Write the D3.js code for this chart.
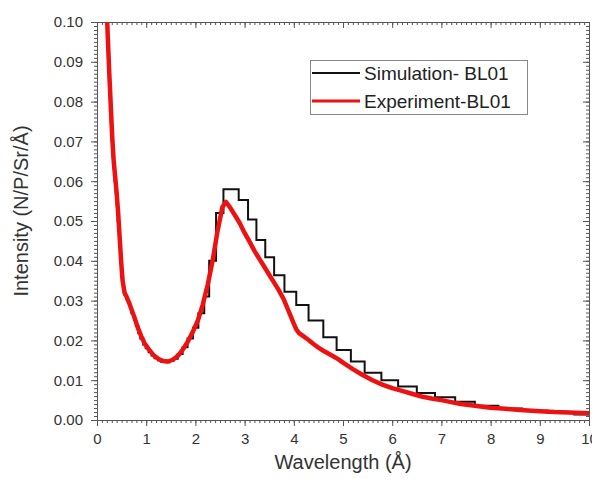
<!DOCTYPE html>
<html>
<head>
<meta charset="utf-8">
<script src="https://cdn.jsdelivr.net/npm/d3@7"></script>
<style>
  body { margin: 0; background: #fff; }
  svg { font-family: "Liberation Sans", Arial, sans-serif; }
</style>
</head>
<body>
<script>
// tick labels
var xTicks = [0, 1, 2, 3, 4, 5, 6, 7, 8, 9, 10];
var yTicks = [0.00, 0.01, 0.02, 0.03, 0.04, 0.05, 0.06, 0.07, 0.08, 0.09, 0.10];

// Simulation - BL01 : histogram bin edges and bin values
var simEdges = [0.20,0.21,0.22,0.24,0.25,0.27,0.28,0.30,0.32,0.34,
                0.36,0.38,0.40,0.42,0.45,0.47,0.50,0.53,0.56,0.59,
                0.63,0.67,0.70,0.75,0.79,0.84,0.88,0.94,0.99,1.05,
                1.11,1.17,1.24,1.31,1.39,1.47,1.55,1.64,1.74,1.84,
                1.95,2.06,2.18,2.28,2.42,2.57,2.72,2.88,3.07,3.24,
                3.42,3.60,3.81,4.05,4.30,4.60,4.87,5.16,5.44,5.78,
                6.12,6.50,6.87,7.28,7.68,8.16,8.64,9.16,9.70,10.30];
var simValues = [0.104,0.099,0.094,0.088,0.084,0.079,0.075,0.070,0.066,0.063,
                 0.060,0.057,0.054,0.050,0.045,0.040,0.036,0.033,0.0315,0.0305,
                 0.0295,0.0282,0.0268,0.0252,0.0236,0.0218,0.0205,0.0190,0.0180,0.0170,
                 0.0162,0.0155,0.0150,0.0146,0.0145,0.0148,0.0154,0.0166,0.0183,0.0205,
                 0.0232,0.0268,0.0310,0.0400,0.0520,0.0580,0.0580,0.0553,0.0504,0.0452,
                 0.0409,0.0364,0.0322,0.0289,0.0250,0.0208,0.0176,0.0147,0.0119,0.0100,
                 0.0084,0.0068,0.0057,0.0046,0.0036,0.0029,0.0023,0.0018,0.0014];

// Experiment - BL01
var expLambda = [0.19,0.22,0.25,0.28,0.31,0.34,0.37,0.40,0.43,0.46,
                 0.49,0.52,0.56,0.60,0.65,0.70,0.76,0.83,0.90,0.97,
                 1.05,1.15,1.25,1.35,1.45,1.55,1.65,1.75,1.85,1.95,
                 2.05,2.15,2.25,2.35,2.45,2.55,2.62,2.70,2.80,2.90,
                 3.00,3.10,3.20,3.30,3.40,3.50,3.60,3.70,3.80,3.90,
                 4.00,4.05,4.10,4.20,4.30,4.40,4.50,4.60,4.70,4.80,
                 4.90,5.00,5.20,5.40,5.60,5.80,6.00,6.20,6.40,6.60,
                 6.80,7.00,7.20,7.40,7.60,7.80,8.00,8.30,8.60,9.00,
                 9.30,9.60,10.00];
var expValues = [0.106,0.096,0.087,0.079,0.071,0.065,0.061,0.057,0.052,0.046,
                 0.040,0.035,0.032,0.031,0.0295,0.0278,0.0258,0.0232,0.0210,0.0192,
                 0.0178,0.0163,0.0153,0.0148,0.0147,0.0152,0.0162,0.0178,0.0198,0.0222,
                 0.0250,0.0290,0.0340,0.0400,0.0475,0.0535,0.0548,0.0535,0.0515,0.0495,
                 0.0470,0.0448,0.0425,0.0405,0.0385,0.0365,0.0345,0.0325,0.0302,0.0272,
                 0.0242,0.0228,0.0219,0.0210,0.0201,0.0191,0.0182,0.0174,0.0167,0.0160,
                 0.0153,0.0144,0.0128,0.0113,0.0100,0.0089,0.0080,0.0073,0.0066,0.0059,
                 0.0054,0.0050,0.0045,0.0040,0.0037,0.0034,0.0031,0.0028,0.0025,0.0022,
                 0.0020,0.0019,0.0017];

var seriesNames = ['Simulation- BL01', 'Experiment-BL01'];
var seriesColors = ['#111111', '#ee1111'];

var width = 592, height = 479;
var margin = { left: 97, right: 3, top: 22, bottom: 59 };

var svg = d3.select('body').append('svg')
    .attr('width', width)
    .attr('height', height);

var x = d3.scaleLinear().domain([0, 10]).range([margin.left, width - margin.right]);
var y = d3.scaleLinear().domain([0, 0.10]).range([height - margin.bottom, margin.top]);

svg.append('clipPath').attr('id', 'plot-clip')
    .append('rect')
    .attr('x', x(0)).attr('y', y(0.10))
    .attr('width', x(10) - x(0)).attr('height', y(0) - y(0.10));

var axisColor = '#555';
var minorX = d3.range(0, 10.001, 0.1);
var minorY = d3.range(0, 0.1001, 0.001);

function styleAxis(g) {
    g.selectAll('path, line').attr('stroke', axisColor);
    g.selectAll('text').attr('fill', '#333').style('font-size', '15px');
}

// minor ticks
svg.append('g').attr('transform', 'translate(0,' + y(0) + ')')
    .call(d3.axisBottom(x).tickValues(minorX).tickSize(3).tickFormat(''))
    .call(styleAxis);
svg.append('g').attr('transform', 'translate(0,' + y(0.10) + ')')
    .call(d3.axisBottom(x).tickValues(minorX).tickSize(3).tickFormat(''))
    .call(styleAxis);
svg.append('g').attr('transform', 'translate(' + x(0) + ',0)')
    .call(d3.axisLeft(y).tickValues(minorY).tickSize(3).tickFormat(''))
    .call(styleAxis);
svg.append('g').attr('transform', 'translate(' + x(10) + ',0)')
    .call(d3.axisLeft(y).tickValues(minorY).tickSize(3).tickFormat(''))
    .call(styleAxis);

// major ticks
svg.append('g').attr('transform', 'translate(0,' + y(0) + ')')
    .call(d3.axisBottom(x).tickValues(xTicks).tickSize(6).tickPadding(7).tickFormat(d3.format('d')))
    .call(styleAxis);
svg.append('g').attr('transform', 'translate(0,' + y(0.10) + ')')
    .call(d3.axisBottom(x).tickValues(xTicks).tickSize(6).tickFormat(''))
    .call(styleAxis);
svg.append('g').attr('transform', 'translate(' + x(0) + ',0)')
    .call(d3.axisLeft(y).tickValues(yTicks).tickSize(6).tickPadding(8).tickFormat(d3.format('.2f')))
    .call(styleAxis);
svg.append('g').attr('transform', 'translate(' + x(10) + ',0)')
    .call(d3.axisLeft(y).tickValues(yTicks).tickSize(6).tickFormat(''))
    .call(styleAxis);

// series
var plot = svg.append('g').attr('clip-path', 'url(#plot-clip)');

var simPoints = simEdges.map(function (e, i) {
    return [e, simValues[Math.min(i, simValues.length - 1)]];
});
var stepLine = d3.line()
    .x(function (d) { return x(d[0]); })
    .y(function (d) { return y(d[1]); })
    .curve(d3.curveStepAfter);
plot.append('path')
    .attr('d', stepLine(simPoints))
    .attr('fill', 'none')
    .attr('stroke', seriesColors[0])
    .attr('stroke-width', 2);

var expLine = d3.line()
    .x(function (d, i) { return x(expLambda[i]); })
    .y(function (d) { return y(d); });
plot.append('path')
    .attr('d', expLine(expValues))
    .attr('fill', 'none')
    .attr('stroke', seriesColors[1])
    .attr('stroke-width', 4.5)
    .attr('stroke-linejoin', 'round');

// axis titles
svg.append('text')
    .attr('x', (x(0) + x(10)) / 2)
    .attr('y', 469)
    .attr('text-anchor', 'middle')
    .attr('fill', '#333')
    .style('font-size', '20px')
    .text('Wavelength (Å)');
svg.append('text')
    .attr('transform', 'translate(28,' + 211 + ') rotate(-90)')
    .attr('text-anchor', 'middle')
    .attr('fill', '#333')
    .style('font-size', '20px')
    .text('Intensity (N/P/Sr/Å)');

// legend
var legend = svg.append('g');
legend.append('rect')
    .attr('x', 310.5).attr('y', 60.5)
    .attr('width', 217).attr('height', 54)
    .attr('fill', '#fff')
    .attr('stroke', '#888');
seriesNames.forEach(function (name, i) {
    var ly = 73 + i * 28;
    legend.append('line')
        .attr('x1', 312).attr('x2', 360)
        .attr('y1', ly).attr('y2', ly)
        .attr('stroke', seriesColors[i])
        .attr('stroke-width', i === 0 ? 2 : 3);
    legend.append('text')
        .attr('x', 364).attr('y', ly + 7)
        .attr('fill', '#222')
        .style('font-size', '19px')
        .text(name);
});
</script>
</body>
</html>
